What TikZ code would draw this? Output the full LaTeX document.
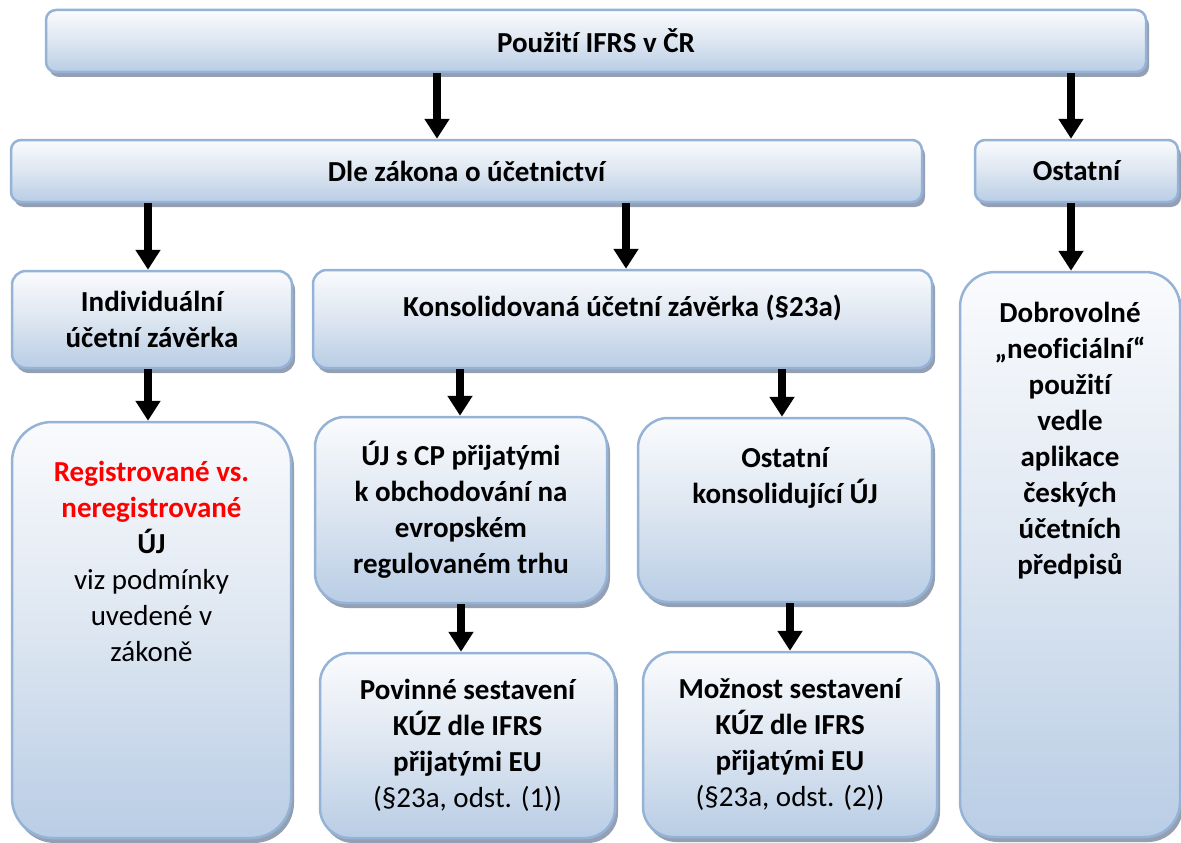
\documentclass[tikz,border=0pt]{standalone}
\usepackage{fontspec}
\setmainfont[Ligatures=NoCommon]{Carlito}
\usetikzlibrary{arrows.meta,shadows}

\definecolor{boxedge}{RGB}{149,179,215}
\definecolor{boxtop}{RGB}{250,251,253}
\definecolor{boxmid}{RGB}{221,230,241}
\definecolor{boxbot}{RGB}{185,205,229}
\definecolor{boxshadow}{RGB}{148,160,178}
\definecolor{alertred}{RGB}{255,0,0}

\tikzset{
  panel/.style={draw=boxedge, line width=2.5pt,
    top color=boxtop, bottom color=boxbot, middle color=boxmid,
    inner sep=0pt, align=center,
    font=\fontsize{29}{36}\selectfont\bfseries,
    drop shadow={shadow xshift=3pt, shadow yshift=-5pt, fill=boxshadow, opacity=1}},
  label/.style={inner sep=0pt, align=center, font=\fontsize{29}{36}\selectfont\bfseries},
  arr/.style={line width=8pt, -{Triangle[width=24pt,length=20pt]}},
}

\begin{document}
\begin{tikzpicture}[x=1pt, y=-1pt]
\useasboundingbox (0,0) rectangle (1181,843);

% ----- boxes -----
\node[panel, rounded corners=10pt, minimum width=1100pt, minimum height=62pt] (ifrs) at (596,41) {Použití IFRS v ČR};
\node[panel, rounded corners=10pt, minimum width=911pt, minimum height=62pt] (law) at (466.5,171) {Dle zákona o účetnictví};
\node[panel, rounded corners=10pt, minimum width=203pt, minimum height=62pt] (other) at (1076.5,171) {Ostatní};

\node[panel, rounded corners=14pt, minimum width=280pt, minimum height=97pt] (indiv) at (152,319.5) {Individuální\\účetní závěrka};
\node[panel, rounded corners=14pt, minimum width=619pt, minimum height=98pt] (consol) at (622.5,319) {};
\node[label] at (622.5,308) {Konsolidovaná účetní závěrka (§23a)};

\node[panel, rounded corners=35pt, minimum width=220pt, minimum height=565pt] (volunt) at (1070,554.5) {};
\node[label] at (1070,441) {Dobrovolné\\„neoficiální“\\použití\\vedle\\aplikace\\českých\\účetních\\předpisů};

\node[panel, rounded corners=40pt, minimum width=279pt, minimum height=416pt] (regist) at (151.5,630) {};
\node[label] at (151.5,561) {\textcolor{alertred}{Registrované vs.}\\\textcolor{alertred}{neregistrované}\\ÚJ\\\mdseries viz podmínky\\\mdseries uvedené v\\\mdseries zákoně};

\node[panel, rounded corners=30pt, minimum width=292pt, minimum height=186pt] (listed) at (461,510) {ÚJ s CP přijatými\\k obchodování na\\evropském\\regulovaném trhu};
\node[panel, rounded corners=30pt, minimum width=294pt, minimum height=184pt] (othercons) at (785,510) {};
\node[label] at (785,478) {Ostatní\\konsolidující ÚJ};

\node[panel, rounded corners=30pt, minimum width=295pt, minimum height=185pt] (mandatory) at (467.5,745.5) {Povinné sestavení\\KÚZ dle IFRS\\přijatými EU\\\mdseries(§23a, odst. (1))};
\node[panel, rounded corners=30pt, minimum width=294pt, minimum height=185pt] (optional) at (790,744.5) {Možnost sestavení\\KÚZ dle IFRS\\přijatými EU\\\mdseries(§23a, odst. (2))};

% ----- arrow columns -----
\coordinate (c1) at (437,0);
\coordinate (c2) at (1071,0);
\coordinate (c3) at (148,0);
\coordinate (c4) at (626,0);
\coordinate (c5) at (460,0);
\coordinate (c6) at (782,0);
\coordinate (c7) at (461,0);
\coordinate (c8) at (790,0);

% ----- connectors -----
\draw[arr] (ifrs.south -| c1) -- (law.north -| c1);
\draw[arr] (ifrs.south -| c2) -- (other.north -| c2);
\draw[arr] (law.south -| c3) -- (indiv.north -| c3);
\draw[arr] (law.south -| c4) -- (consol.north -| c4);
\draw[arr] (other.south -| c2) -- (volunt.north -| c2);
\draw[arr] (indiv.south -| c3) -- (regist.north -| c3);
\draw[arr] (consol.south -| c5) -- (listed.north -| c5);
\draw[arr] (consol.south -| c6) -- (othercons.north -| c6);
\draw[arr] (listed.south -| c7) -- (mandatory.north -| c7);
\draw[arr] (othercons.south -| c8) -- (optional.north -| c8);
\end{tikzpicture}
\end{document}
